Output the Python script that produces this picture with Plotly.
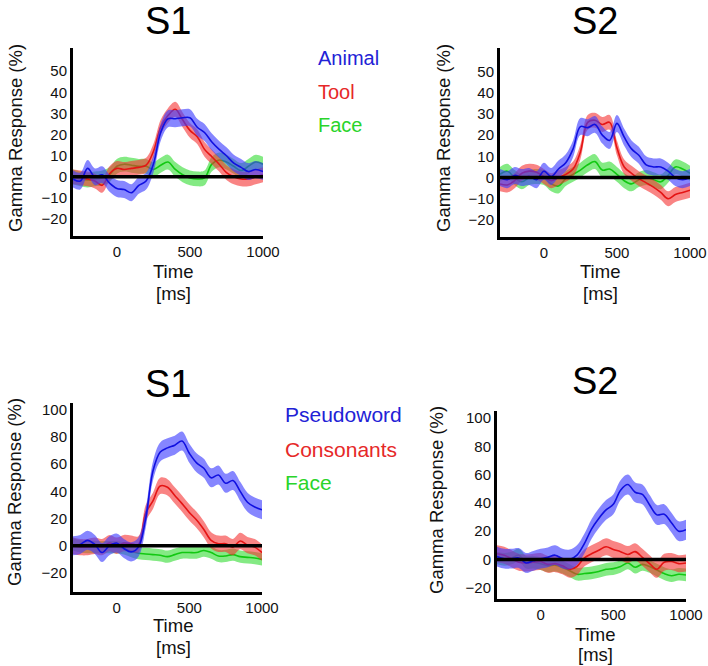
import plotly.graph_objects as go

# ---------------- data ----------------
TIME = [-300, -250, -200, -150, -100, -50, 0, 50, 100, 150, 200, 250, 300, 350,
        400, 450, 500, 550, 600, 650, 700, 750, 800, 850, 900, 950, 1000]

# Panel 1 (S1, objects)
P1_ANIMAL = [-1, -2, 4, 0, 1, -3, -5.5, -6, -7.5, -4, -2, 6, 21, 27.5, 27.5, 28, 28,
             23.5, 21, 16.5, 13, 10, 6.5, 4.5, 2.5, 3.5, 2.5]
P1_TOOL = [0, -0.5, -1, -2, -4, 1.5, 4, 3.5, 4, 4.5, 5.5, 12, 23.5, 29, 32, 27, 22,
           19, 13, 9.5, 6, 2, 0, -1, -1, 0, 1]
P1_FACE = [0, -1, -1.5, -1, -0.5, 1, 5, 6, 5.5, 5, 5, 3.5, 5.5, 7, 3.5, 1, -0.5,
           -1, -0.5, 6, 8, 7, 5, 3, 5, 7, 6]

# Panel 2 (S2, objects)
P2_ANIMAL = [0, -1, 1, 0, 0.5, -1, 3, 0.5, 4, 7, 13.5, 24, 23.5, 25, 20, 17.5, 25.5,
             19, 13.5, 10.5, 6, 5, 5, 3, 0, -1, 0]
P2_TOOL = [-3, -3.5, -1.5, 2, 3, 2.5, 0.5, -1.5, 0, 1.5, 4, 12, 26, 27, 25, 26, 14,
           5, 2, -0.5, -2.5, -4.5, -7, -10, -8, -7, -6]
P2_FACE = [1.5, 3, 0, -2, 0, 0.5, 0, -3, -4, -0.5, 1.5, 3.5, 6, 7.5, 3.5, 4, 1.5,
           -1.5, -3, -1, 0, -1, -2, 1, 5, 4, 2]

# Panel 3 (S1, words)
P3_PSEUDOWORD = [0, 1, 4, 1, -5, 0, 2, -2, -4.5, -1, 20, 55, 69, 72, 74, 77, 68,
                 61, 57, 50, 52, 46, 48, 40, 32, 28.5, 26.5]
P3_CONSONANTS = [0, -1, -1, 0, -1, 2, 0, 2, 1.5, 1, 24, 33, 44, 43, 37, 31, 24.5,
                 19, 12, 4, 1.5, 1.5, -1, 3.5, 0.5, -1, -5]
P3_FACE = [1, -0.5, -1, -1, -1, -1, -1, -2, -4, -5.5, -6, -6.5, -7, -8, -6.5, -5, -5,
           -5, -3.5, -5, -7.5, -7.5, -6.5, -8, -8.5, -9, -10]

# Panel 4 (S2, words)
P4_PSEUDOWORD = [2, 0.5, 0.5, 1, -2.5, -1, 0.5, 1.5, 3, 0.5, 0, 3, 11, 21.5, 29, 35,
                 39, 49, 53, 47.5, 46, 38.5, 31.5, 32, 26, 20, 21]
P4_CONSONANTS = [4, 3, 0.5, -2, -2.5, -2, -1.5, -3.5, -3, -4.5, -7, -5, 1, 4, 6.5, 9,
                 7, 5.5, 3.5, 5.5, 1.5, -3, -7, -2, -1.5, -3, -2.5]
P4_FACE = [1, 0, 1, 3, -2, -2, -3, -4.5, -4, -5.5, -8, -10.5, -10, -9.5, -8.5, -7,
           -6.5, -5, -2.5, -5.5, -3.5, -5, -7.5, -10, -11.5, -10.5, -11]

# standard-error half widths (percent)
SEM_P1 = {"Animal": 4.0, "Tool": 3.5, "Face": 3.5}
SEM_P2 = {"Animal": 4.0, "Tool": 3.5, "Face": 3.5}
SEM_P3 = {"Pseudoword": 7.0, "Consonants": 6.0, "Face": 4.5}
SEM_P4 = {"Pseudoword": 7.0, "Consonants": 6.0, "Face": 4.5}

TITLES = ["S1", "S2", "S1", "S2"]
LEGEND_TOP = ["Animal", "Tool", "Face"]
LEGEND_BOTTOM = ["Pseudoword", "Consonants", "Face"]
YTICKS_TOP = [-20, -10, 0, 10, 20, 30, 40, 50]
YTICKS_BOTTOM = [-20, 0, 20, 40, 60, 80, 100]
XTICKS = [0, 500, 1000]
Y_TITLE = "Gamma Response (%)"
X_TITLE = "Time"
X_UNIT = "[ms]"

# ---------------- styling ----------------
W, H = 708, 666
FONT = "Liberation Sans, Arial, sans-serif"
LINE_COLORS = ["#1010e0", "#e41414", "#12c812"]     # blue, red, green
FILL_COLORS = ["rgba(60,60,255,0.62)", "rgba(245,50,50,0.6)", "rgba(50,220,50,0.6)"]
TEXT_COLORS = ["#2222d6", "#e62828", "#2ad42a"]

# pixel boxes: (left, right, top, bottom)
BOXES = [(73, 263, 48, 236), (500, 690, 48, 237), (73, 262, 403, 592), (497, 686, 411, 599)]
YRANGES = [[-28, 61], [-28, 61], [-34, 105], [-28, 105]]
XRANGE = [-300, 1000]


def px_x(p):
    return p / W


def px_y(p):
    return 1 - p / H


fig = go.Figure()

panels = [
    ([P1_FACE, P1_TOOL, P1_ANIMAL], [SEM_P1["Face"], SEM_P1["Tool"], SEM_P1["Animal"]]),
    ([P2_FACE, P2_TOOL, P2_ANIMAL], [SEM_P2["Face"], SEM_P2["Tool"], SEM_P2["Animal"]]),
    ([P3_FACE, P3_CONSONANTS, P3_PSEUDOWORD],
     [SEM_P3["Face"], SEM_P3["Consonants"], SEM_P3["Pseudoword"]]),
    ([P4_FACE, P4_CONSONANTS, P4_PSEUDOWORD],
     [SEM_P4["Face"], SEM_P4["Consonants"], SEM_P4["Pseudoword"]]),
]
# draw order: green, red, blue
ORDER_COLORS = [2, 1, 0]

for i, (series, sems) in enumerate(panels):
    xa = "x" if i == 0 else f"x{i+1}"
    ya = "y" if i == 0 else f"y{i+1}"
    for s, sem, ci in zip(series, sems, ORDER_COLORS):
        lower = [v - sem for v in s]
        upper = [v + sem for v in s]
        fig.add_trace(go.Scatter(x=TIME, y=lower, mode="lines", xaxis=xa, yaxis=ya,
                                 line=dict(width=0, shape="spline", color=FILL_COLORS[ci]),
                                 hoverinfo="skip", showlegend=False))
        fig.add_trace(go.Scatter(x=TIME, y=upper, mode="lines", xaxis=xa, yaxis=ya,
                                 fill="tonexty", fillcolor=FILL_COLORS[ci],
                                 line=dict(width=0, shape="spline", color=FILL_COLORS[ci]),
                                 hoverinfo="skip", showlegend=False))
        fig.add_trace(go.Scatter(x=TIME, y=s, mode="lines", xaxis=xa, yaxis=ya,
                                 line=dict(width=1.6, shape="spline", color=LINE_COLORS[ci]),
                                 showlegend=False))

layout = dict(width=W, height=H, autosize=False, margin=dict(l=0, r=0, t=0, b=0, pad=0),
              paper_bgcolor="white", plot_bgcolor="white", showlegend=False,
              font=dict(family=FONT, color="#111"))

shapes = []
annotations = []
for i, (l, r, t, b) in enumerate(BOXES):
    sfx = "" if i == 0 else str(i + 1)
    yt = YTICKS_TOP if i < 2 else YTICKS_BOTTOM
    layout["xaxis" + sfx] = dict(domain=[px_x(l), px_x(r)], range=XRANGE, automargin=False,
                                 anchor="y" + sfx, showgrid=False, zeroline=False,
                                 showline=True, linewidth=3, linecolor="black",
                                 tickvals=XTICKS, ticks="", tickfont=dict(size=15, color="#111"))
    layout["yaxis" + sfx] = dict(domain=[px_y(b), px_y(t)], range=YRANGES[i], automargin=False,
                                 anchor="x" + sfx, showgrid=False, zeroline=False,
                                 showline=True, linewidth=3, linecolor="black",
                                 tickvals=yt, ticks="", tickfont=dict(size=15, color="#111"))
    shapes.append(dict(type="line", xref=f"x{sfx} domain", yref=f"y{sfx}",
                       x0=0, x1=1, y0=0, y1=0, layer="above",
                       line=dict(color="black", width=3.5)))

# titles
TITLE_POS = [(168, 21), (595, 21), (168, 384), (595, 381)]
for txt, (x, y) in zip(TITLES, TITLE_POS):
    annotations.append(dict(text=txt, x=px_x(x), y=px_y(y), xref="paper", yref="paper",
                            showarrow=False, xanchor="center", yanchor="middle",
                            font=dict(size=38, color="black")))

# y titles
YT_POS = [(15, 138), (443, 138), (14, 492), (437, 500)]
for (x, y) in YT_POS:
    annotations.append(dict(text=Y_TITLE, x=px_x(x), y=px_y(y), xref="paper", yref="paper",
                            showarrow=False, textangle=-90, xanchor="center", yanchor="middle",
                            font=dict(size=18.5, color="#111")))

# x titles
XT_POS = [(173, 271, 293), (600, 271, 293), (173, 625, 647), (595, 634, 654)]
for (x, y1, y2) in XT_POS:
    annotations.append(dict(text=X_TITLE, x=px_x(x), y=px_y(y1), xref="paper", yref="paper",
                            showarrow=False, xanchor="center", yanchor="middle",
                            font=dict(size=18.5, color="#111")))
    annotations.append(dict(text=X_UNIT, x=px_x(x), y=px_y(y2), xref="paper", yref="paper",
                            showarrow=False, xanchor="center", yanchor="middle",
                            font=dict(size=18.5, color="#111")))

# legends
for txt, y, c in zip(LEGEND_TOP, [58, 92, 125], TEXT_COLORS):
    annotations.append(dict(text=txt, x=px_x(316), y=px_y(y), xref="paper", yref="paper",
                            showarrow=False, xanchor="left", yanchor="middle",
                            font=dict(size=20, color=c)))
for txt, y, c in zip(LEGEND_BOTTOM, [414, 449, 482], TEXT_COLORS):
    annotations.append(dict(text=txt, x=px_x(283), y=px_y(y), xref="paper", yref="paper",
                            showarrow=False, xanchor="left", yanchor="middle",
                            font=dict(size=21, color=c)))

layout["shapes"] = shapes
layout["annotations"] = annotations
fig.update_layout(**layout)

fig.write_html("out.html", config={"displayModeBar": False},
               post_script="document.body.style.margin='0';document.body.style.overflow='hidden';")
